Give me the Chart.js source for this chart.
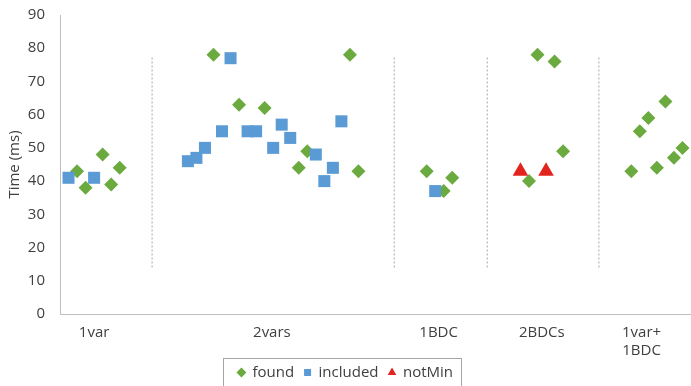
<!DOCTYPE html>
<html>
<head>
<meta charset="utf-8">
<script src="https://cdn.jsdelivr.net/npm/chart.js@4"></script>
<style>
html, body { margin: 0; padding: 0; background: #fff; }
#wrap { width: 691px; height: 386px; }
</style>
</head>
<body>
<div id="wrap"><canvas id="chart" width="691" height="386"></canvas></div>
<script>
// --- data ---
const categories = ['1var', '2vars', '1BDC', '2BDCs', ['1var+', '1BDC']];
const categoryPos = [4, 24.85, 44.4, 56.5, 68.2];

const foundX = [2, 3, 5, 6, 7, 18, 21, 24, 28, 29, 34, 35, 43, 45, 46, 55, 56, 58, 59, 67, 68, 69, 70, 71, 72, 73];
const foundY = [43, 38, 48, 39, 44, 78, 63, 62, 44, 49, 78, 43, 43, 37, 41, 40, 78, 76, 49, 43, 55, 59, 44, 64, 47, 50];

const includedX = [1, 4, 15, 16, 17, 19, 20, 22, 23, 25, 26, 27, 30, 31, 32, 33, 44];
const includedY = [41, 41, 46, 47, 50, 55, 77, 55, 55, 50, 57, 53, 48, 40, 44, 58, 37];

const notMinX = [54, 57];
const notMinY = [43, 43];

// dotted group dividers (x position, value range)
const separatorX = [10.8, 39.2, 50.1, 63.2];
const separatorRange = [14, 77.5];

const toPoints = (xs, ys) => xs.map((x, i) => ({ x: x, y: ys[i] }));

const separatorData = separatorX.flatMap(x => [
    { x: x, y: separatorRange[0] },
    { x: x, y: separatorRange[1] },
    { x: x, y: null }
]);

// --- ram runt legenden ---
const legendFrame = {
    id: 'legendFrame',
    afterDraw(chart) {
        const boxes = chart.legend && chart.legend.legendHitBoxes;
        if (!boxes || !boxes.length) return;
        const left = Math.min(...boxes.map(b => b.left)) - 15;
        const right = Math.max(...boxes.map(b => b.left + b.width)) + 8;
        const mid = boxes[0].top + boxes[0].height / 2;
        const ctx = chart.ctx;
        ctx.save();
        ctx.strokeStyle = '#a6a6a6';
        ctx.lineWidth = 1;
        ctx.strokeRect(Math.round(left) + 0.5, Math.round(mid - 15) + 0.5, Math.round(right - left), 40);
        ctx.restore();
    }
};

Chart.defaults.font.family = '"Open Sans", sans-serif';
Chart.defaults.font.size = 15;
Chart.defaults.color = '#404040';

new Chart(document.getElementById('chart'), {
    type: 'scatter',
    data: {
        datasets: [
            {
                label: 'found',
                data: toPoints(foundX, foundY),
                pointStyle: 'rectRot',
                pointRadius: 7,
                backgroundColor: '#6aaa3f',
                borderColor: '#6aaa3f',
                borderWidth: 0,
                order: 2
            },
            {
                label: 'included',
                data: toPoints(includedX, includedY),
                pointStyle: 'rect',
                pointRadius: 8.5,
                backgroundColor: '#5b9bd5',
                borderColor: '#5b9bd5',
                borderWidth: 0,
                order: 1
            },
            {
                label: 'notMin',
                data: toPoints(notMinX, notMinY),
                pointStyle: 'triangle',
                pointRadius: 9,
                backgroundColor: '#e3231e',
                borderColor: '#e3231e',
                borderWidth: 0,
                order: 0
            },
            {
                label: '',
                data: separatorData,
                showLine: true,
                spanGaps: false,
                pointRadius: 0,
                borderColor: '#a6a6a6',
                borderWidth: 1,
                borderDash: [2, 2],
                order: 3
            }
        ]
    },
    options: {
        responsive: false,
        animation: false,
        devicePixelRatio: 1,
        layout: { autoPadding: false, padding: { top: 15, right: 0, bottom: -4, left: 0 } },
        plugins: {
            tooltip: { enabled: false },
            legend: {
                position: 'bottom',
                labels: {
                    usePointStyle: true,
                    boxWidth: 7,
                    boxHeight: 7,
                    padding: 10,
                    font: { size: 15 },
                    filter: item => item.text !== '',
                    sort: (a, b) => a.datasetIndex - b.datasetIndex
                }
            }
        },
        scales: {
            x: {
                type: 'linear',
                min: 0,
                max: 74,
                grid: { display: false, drawTicks: false },
                border: { color: '#bfbfbf' },
                ticks: {
                    autoSkip: false,
                    maxRotation: 0,
                    padding: 9,
                    font: { size: 15, lineHeight: 1.25 },
                    callback: (v, i) => categories[i]
                },
                afterBuildTicks: s => { s.ticks = categoryPos.map(v => ({ value: v })); },
                afterFit: s => { s.height = 41; }
            },
            y: {
                min: 0,
                max: 90,
                grid: { display: false, drawTicks: false },
                border: { color: '#bfbfbf' },
                ticks: { stepSize: 10, padding: 15 },
                title: {
                    display: true,
                    text: 'Time (ms)',
                    font: { size: 15 },
                    padding: { top: 6, bottom: 0 }
                },
                afterFit: s => {
                    s.width = 60;
                    s.paddingTop = 0;
                    s.paddingBottom = 0;
                }
            }
        }
    },
    plugins: [legendFrame]
});
</script>
</body>
</html>
